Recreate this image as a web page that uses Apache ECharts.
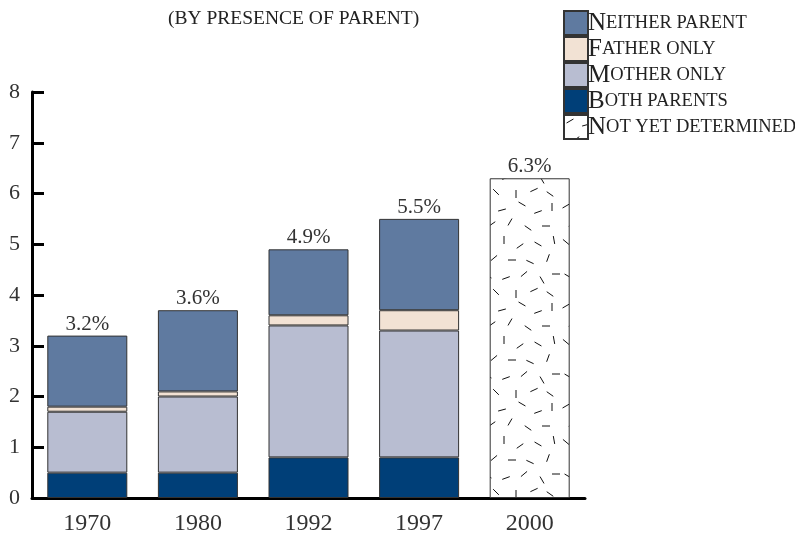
<!DOCTYPE html>
<html>
<head>
<meta charset="utf-8">
<script src="https://cdn.jsdelivr.net/npm/echarts@6/dist/echarts.min.js"></script>
<style>
html,body{margin:0;padding:0;background:#fff;}
#main{width:795px;height:534px;}
</style>
</head>
<body>
<div id="main"></div>
<script>
var years = ['1970', '1980', '1992', '1997', '2000'];
var bothParents = [0.5, 0.5, 0.8, 0.8, '-'];
var motherOnly = [1.2, 1.5, 2.6, 2.5, '-'];
var fatherOnly = [0.1, 0.1, 0.2, 0.4, '-'];
var neitherParent = [1.4, 1.6, 1.3, 1.8, '-'];
var notYet = ['-', '-', '-', '-', 6.3];
var totals = ['3.2%', '3.6%', '4.9%', '5.5%', '6.3%'];

var serif = '"Liberation Serif", "DejaVu Serif", serif';

// texture for the "not yet determined" bar: little scattered dashes
function dashTile(){
	var c = document.createElement('canvas');
	c.width = 80; c.height = 100;
	var g = c.getContext('2d');
	g.fillStyle = '#fff';
	g.fillRect(0, 0, 80, 100);
	g.strokeStyle = '#111';
	g.lineWidth = 1;
	var d = [[6,6,-30],[22,10,-15],[42,4,30],[58,12,-20],[72,7,90],
		[12,24,-35],[30,22,-60],[48,28,35],[66,26,0],
		[6,42,40],[24,40,90],[40,46,-35],[58,44,30],[74,40,80],
		[14,58,-40],[32,60,0],[50,62,25],[68,58,-70],
		[8,76,30],[26,78,-20],[44,74,-40],[62,80,60],[76,74,0],
		[16,92,45],[36,94,90],[54,90,-25],[70,94,35]];
	d.forEach(function(p){
		var a = p[2] * Math.PI / 180;
		var dx = Math.cos(a) * 4, dy = Math.sin(a) * 4;
		g.beginPath();
		g.moveTo(p[0] - dx, p[1] - dy);
		g.lineTo(p[0] + dx, p[1] + dy);
		g.stroke();
	});
	return c;
}

var myChart = echarts.init(document.getElementById('main'));

function bar(name, data, color, isTop){
	return {
		name: name,
		type: 'bar',
		stack: 'all',
		barWidth: 80,
		data: data,
		itemStyle: {color: color, borderColor: '#333', borderWidth: 1},
		label: {
			show: !!isTop,
			position: 'top',
			distance: 1,
			fontFamily: serif,
			fontSize: 21,
			color: '#333',
			formatter: function(p){ return totals[p.dataIndex]; }
		}
	};
}

var option = {
	animation: false,
	title: {
		text: '(BY PRESENCE OF PARENT)',
		left: 163,
		top: 4,
		textStyle: {fontFamily: serif, fontSize: 19.5, fontWeight: 'normal', color: '#222'}
	},
	legend: {
		orient: 'vertical',
		left: 558,
		top: 5,
		itemWidth: 24,
		itemHeight: 24,
		itemGap: 0,
		icon: 'rect',
		data: ['Neither parent', 'Father only', 'Mother only', 'Both parents', 'Not yet determined'],
		formatter: function(n){
			return '{a|' + n.charAt(0) + '}{b|' + n.slice(1).toUpperCase() + '}';
		},
		textStyle: {
			padding: [0, 0, 0, -5],
			rich: {
				a: {fontFamily: serif, fontSize: 25, lineHeight: 22, color: '#222'},
				b: {fontFamily: serif, fontSize: 18.5, lineHeight: 22, color: '#222'}
			}
		}
	},
	grid: {left: 32, right: 210, top: 92, bottom: 36, outerBoundsMode: 'none'},
	xAxis: {
		type: 'category',
		data: years,
		axisLine: {lineStyle: {color: '#000', width: 3}},
		axisTick: {inside: true, length: 8, lineStyle: {color: '#000', width: 3}},
		axisLabel: {fontFamily: serif, fontSize: 24, color: '#333', margin: 14}
	},
	yAxis: {
		type: 'value',
		min: 0,
		max: 8,
		interval: 1,
		splitLine: {show: false},
		axisLine: {show: true, lineStyle: {color: '#000', width: 3}},
		axisTick: {show: true, inside: true, length: 12, lineStyle: {color: '#000', width: 3}},
		axisLabel: {fontFamily: serif, fontSize: 22, color: '#333', margin: 12}
	},
	series: [
		bar('Both parents', bothParents, '#003f78'),
		bar('Mother only', motherOnly, '#b8bdd1'),
		bar('Father only', fatherOnly, '#f2e2d4'),
		bar('Neither parent', neitherParent, '#5f7aa0', true),
		bar('Not yet determined', notYet, {image: dashTile(), repeat: 'repeat'}, true)
	]
};

myChart.setOption(option);
</script>
</body>
</html>
